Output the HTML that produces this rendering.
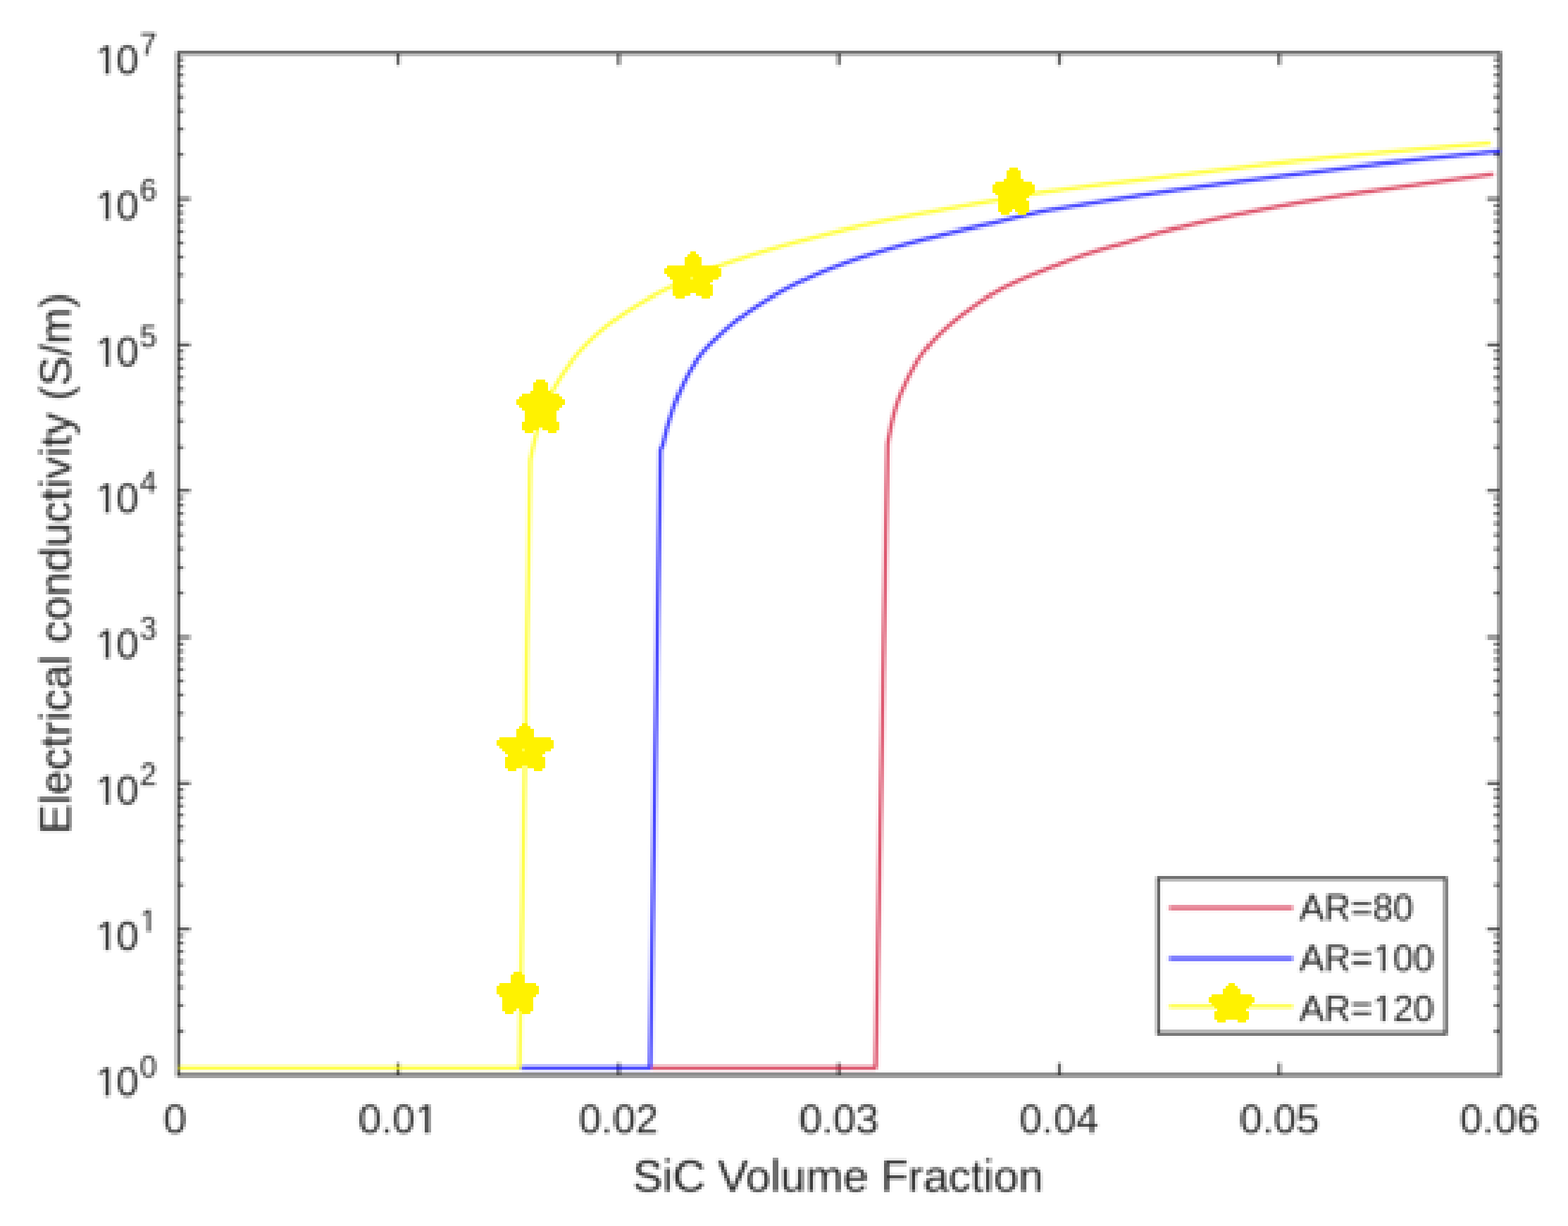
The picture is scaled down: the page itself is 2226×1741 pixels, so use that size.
<!DOCTYPE html>
<html lang="en"><head><meta charset="utf-8"><title>Electrical conductivity vs SiC Volume Fraction</title>
<style>html,body{margin:0;padding:0;background:#fff}body{width:2226px;height:1741px;overflow:hidden}svg{display:block}text{font-family:"Liberation Sans",Arial,Helvetica,sans-serif}</style>
</head><body>
<svg xmlns="http://www.w3.org/2000/svg" width="2226" height="1741" viewBox="0 0 2226 1741">
<defs>
<filter id="px" x="0" y="0" width="2226" height="1741" filterUnits="userSpaceOnUse" color-interpolation-filters="sRGB">
<feOffset in="SourceGraphic" dx="0" dy="0" x="0" y="1736" width="2226" height="4" result="sx0"/>
<feTile in="sx0" x="0" y="0" width="2226" height="1741" result="mapx"/>
<feOffset in="SourceGraphic" dx="0" dy="0" x="2221" y="0" width="4" height="1741" result="sy0"/>
<feTile in="sy0" x="0" y="0" width="2226" height="1741" result="mapy"/>
<feComposite in="mapx" in2="mapy" operator="arithmetic" k1="0" k2="1" k3="1" k4="0" result="map"/>
<feFlood x="0" y="1735" width="2226" height="6" flood-color="#fff" result="fx"/>
<feFlood x="2220" y="0" width="6" height="1741" flood-color="#fff" result="fy"/>
<feMerge result="clean"><feMergeNode in="SourceGraphic"/><feMergeNode in="fx"/><feMergeNode in="fy"/></feMerge>
<feGaussianBlur in="clean" stdDeviation="0.8" result="pre"/>
<feConvolveMatrix in="pre" order="4" kernelMatrix="1 1 1 1 1 1 1 1 1 1 1 1 1 1 1 1" divisor="16" targetX="1" targetY="1" edgeMode="duplicate" preserveAlpha="false" result="aa"/>
<feFlood x="1" y="1" width="1" height="1" flood-color="#000" result="dot"/>
<feOffset in="dot" dx="0" dy="0" x="0" y="0" width="4" height="4" result="cell"/>
<feTile in="cell" result="grid"/>
<feComposite in="aa" in2="grid" operator="in" result="samp"/>
<feMorphology in="samp" operator="dilate" radius="1" result="d3"/>
<feOffset in="d3" dx="1" dy="0" result="d3x"/>
<feMerge result="d43"><feMergeNode in="d3x"/><feMergeNode in="d3"/></feMerge>
<feOffset in="d43" dx="0" dy="1" result="d43y"/>
<feMerge result="d44"><feMergeNode in="d43y"/><feMergeNode in="d43"/></feMerge>
<feDisplacementMap in="d44" in2="map" scale="64" xChannelSelector="R" yChannelSelector="G" result="disp"/>
<feGaussianBlur in="disp" stdDeviation="0.7"/>
</filter>
<filter id="bs" x="0" y="0" width="2226" height="1741" filterUnits="userSpaceOnUse"><feGaussianBlur stdDeviation="0.5"/></filter>
<filter id="bc" x="0" y="0" width="560" height="440" filterUnits="userSpaceOnUse"><feGaussianBlur stdDeviation="0.26"/></filter>
<filter id="bt" x="0" y="0" width="560" height="440" filterUnits="userSpaceOnUse"><feGaussianBlur stdDeviation="0"/></filter>
</defs>
<rect width="2226" height="1741" fill="#fff"/>
<g filter="url(#px)">
<rect width="2226" height="1741" fill="#fff"/>
<rect x="0" y="1735" width="5" height="6" fill="rgb(125,0,0)"/><rect x="5" y="1735" width="23" height="6" fill="rgb(124,0,0)"/><rect x="28" y="1735" width="22" height="6" fill="rgb(123,0,0)"/><rect x="50" y="1735" width="22" height="6" fill="rgb(122,0,0)"/><rect x="72" y="1735" width="22" height="6" fill="rgb(121,0,0)"/><rect x="94" y="1735" width="23" height="6" fill="rgb(120,0,0)"/><rect x="117" y="1735" width="22" height="6" fill="rgb(119,0,0)"/><rect x="139" y="1735" width="22" height="6" fill="rgb(118,0,0)"/><rect x="161" y="1735" width="23" height="6" fill="rgb(117,0,0)"/><rect x="184" y="1735" width="22" height="6" fill="rgb(116,0,0)"/><rect x="206" y="1735" width="22" height="6" fill="rgb(115,0,0)"/><rect x="228" y="1735" width="22" height="6" fill="rgb(114,0,0)"/><rect x="250" y="1735" width="23" height="6" fill="rgb(113,0,0)"/><rect x="273" y="1735" width="22" height="6" fill="rgb(112,0,0)"/><rect x="295" y="1735" width="22" height="6" fill="rgb(111,0,0)"/><rect x="317" y="1735" width="22" height="6" fill="rgb(110,0,0)"/><rect x="339" y="1735" width="23" height="6" fill="rgb(109,0,0)"/><rect x="362" y="1735" width="22" height="6" fill="rgb(108,0,0)"/><rect x="384" y="1735" width="22" height="6" fill="rgb(107,0,0)"/><rect x="406" y="1735" width="22" height="6" fill="rgb(106,0,0)"/><rect x="428" y="1735" width="23" height="6" fill="rgb(105,0,0)"/><rect x="451" y="1735" width="22" height="6" fill="rgb(104,0,0)"/><rect x="473" y="1735" width="22" height="6" fill="rgb(103,0,0)"/><rect x="495" y="1735" width="23" height="6" fill="rgb(102,0,0)"/><rect x="518" y="1735" width="22" height="6" fill="rgb(101,0,0)"/><rect x="540" y="1735" width="22" height="6" fill="rgb(100,0,0)"/><rect x="562" y="1735" width="22" height="6" fill="rgb(99,0,0)"/><rect x="584" y="1735" width="23" height="6" fill="rgb(98,0,0)"/><rect x="607" y="1735" width="22" height="6" fill="rgb(97,0,0)"/><rect x="629" y="1735" width="22" height="6" fill="rgb(96,0,0)"/><rect x="651" y="1735" width="22" height="6" fill="rgb(95,0,0)"/><rect x="673" y="1735" width="23" height="6" fill="rgb(94,0,0)"/><rect x="696" y="1735" width="22" height="6" fill="rgb(93,0,0)"/><rect x="718" y="1735" width="22" height="6" fill="rgb(92,0,0)"/><rect x="740" y="1735" width="22" height="6" fill="rgb(91,0,0)"/><rect x="762" y="1735" width="23" height="6" fill="rgb(90,0,0)"/><rect x="785" y="1735" width="22" height="6" fill="rgb(89,0,0)"/><rect x="807" y="1735" width="22" height="6" fill="rgb(88,0,0)"/><rect x="829" y="1735" width="23" height="6" fill="rgb(87,0,0)"/><rect x="852" y="1735" width="22" height="6" fill="rgb(86,0,0)"/><rect x="874" y="1735" width="22" height="6" fill="rgb(85,0,0)"/><rect x="896" y="1735" width="22" height="6" fill="rgb(84,0,0)"/><rect x="918" y="1735" width="23" height="6" fill="rgb(83,0,0)"/><rect x="941" y="1735" width="22" height="6" fill="rgb(82,0,0)"/><rect x="963" y="1735" width="22" height="6" fill="rgb(81,0,0)"/><rect x="985" y="1735" width="22" height="6" fill="rgb(80,0,0)"/><rect x="1007" y="1735" width="23" height="6" fill="rgb(79,0,0)"/><rect x="1030" y="1735" width="22" height="6" fill="rgb(78,0,0)"/><rect x="1052" y="1735" width="22" height="6" fill="rgb(77,0,0)"/><rect x="1074" y="1735" width="22" height="6" fill="rgb(76,0,0)"/><rect x="1096" y="1735" width="23" height="6" fill="rgb(75,0,0)"/><rect x="1119" y="1735" width="22" height="6" fill="rgb(74,0,0)"/><rect x="1141" y="1735" width="22" height="6" fill="rgb(73,0,0)"/><rect x="1163" y="1735" width="23" height="6" fill="rgb(72,0,0)"/><rect x="1186" y="1735" width="22" height="6" fill="rgb(71,0,0)"/><rect x="1208" y="1735" width="22" height="6" fill="rgb(70,0,0)"/><rect x="1230" y="1735" width="22" height="6" fill="rgb(69,0,0)"/><rect x="1252" y="1735" width="23" height="6" fill="rgb(68,0,0)"/><rect x="1275" y="1735" width="22" height="6" fill="rgb(67,0,0)"/><rect x="1297" y="1735" width="22" height="6" fill="rgb(66,0,0)"/><rect x="1319" y="1735" width="22" height="6" fill="rgb(65,0,0)"/><rect x="1341" y="1735" width="23" height="6" fill="rgb(64,0,0)"/><rect x="1364" y="1735" width="22" height="6" fill="rgb(63,0,0)"/><rect x="1386" y="1735" width="22" height="6" fill="rgb(62,0,0)"/><rect x="1408" y="1735" width="22" height="6" fill="rgb(61,0,0)"/><rect x="1430" y="1735" width="23" height="6" fill="rgb(60,0,0)"/><rect x="1453" y="1735" width="22" height="6" fill="rgb(59,0,0)"/><rect x="1475" y="1735" width="22" height="6" fill="rgb(58,0,0)"/><rect x="1497" y="1735" width="23" height="6" fill="rgb(57,0,0)"/><rect x="1520" y="1735" width="22" height="6" fill="rgb(56,0,0)"/><rect x="1542" y="1735" width="22" height="6" fill="rgb(55,0,0)"/><rect x="1564" y="1735" width="22" height="6" fill="rgb(54,0,0)"/><rect x="1586" y="1735" width="23" height="6" fill="rgb(53,0,0)"/><rect x="1609" y="1735" width="22" height="6" fill="rgb(52,0,0)"/><rect x="1631" y="1735" width="22" height="6" fill="rgb(51,0,0)"/><rect x="1653" y="1735" width="22" height="6" fill="rgb(50,0,0)"/><rect x="1675" y="1735" width="23" height="6" fill="rgb(49,0,0)"/><rect x="1698" y="1735" width="22" height="6" fill="rgb(48,0,0)"/><rect x="1720" y="1735" width="22" height="6" fill="rgb(47,0,0)"/><rect x="1742" y="1735" width="22" height="6" fill="rgb(46,0,0)"/><rect x="1764" y="1735" width="23" height="6" fill="rgb(45,0,0)"/><rect x="1787" y="1735" width="22" height="6" fill="rgb(44,0,0)"/><rect x="1809" y="1735" width="22" height="6" fill="rgb(43,0,0)"/><rect x="1831" y="1735" width="23" height="6" fill="rgb(42,0,0)"/><rect x="1854" y="1735" width="22" height="6" fill="rgb(41,0,0)"/><rect x="1876" y="1735" width="22" height="6" fill="rgb(40,0,0)"/><rect x="1898" y="1735" width="22" height="6" fill="rgb(39,0,0)"/><rect x="1920" y="1735" width="23" height="6" fill="rgb(38,0,0)"/><rect x="1943" y="1735" width="22" height="6" fill="rgb(37,0,0)"/><rect x="1965" y="1735" width="22" height="6" fill="rgb(36,0,0)"/><rect x="1987" y="1735" width="22" height="6" fill="rgb(35,0,0)"/><rect x="2009" y="1735" width="23" height="6" fill="rgb(34,0,0)"/><rect x="2032" y="1735" width="22" height="6" fill="rgb(33,0,0)"/><rect x="2054" y="1735" width="22" height="6" fill="rgb(32,0,0)"/><rect x="2076" y="1735" width="22" height="6" fill="rgb(31,0,0)"/><rect x="2098" y="1735" width="23" height="6" fill="rgb(30,0,0)"/><rect x="2121" y="1735" width="22" height="6" fill="rgb(29,0,0)"/><rect x="2143" y="1735" width="22" height="6" fill="rgb(28,0,0)"/><rect x="2165" y="1735" width="23" height="6" fill="rgb(27,0,0)"/><rect x="2188" y="1735" width="22" height="6" fill="rgb(26,0,0)"/><rect x="2210" y="1735" width="16" height="6" fill="rgb(25,0,0)"/>
<rect x="2220" y="0" width="6" height="18" fill="rgb(0,115,0)"/><rect x="2220" y="18" width="6" height="24" fill="rgb(0,114,0)"/><rect x="2220" y="42" width="6" height="24" fill="rgb(0,113,0)"/><rect x="2220" y="66" width="6" height="24" fill="rgb(0,112,0)"/><rect x="2220" y="90" width="6" height="23" fill="rgb(0,111,0)"/><rect x="2220" y="113" width="6" height="24" fill="rgb(0,110,0)"/><rect x="2220" y="137" width="6" height="24" fill="rgb(0,109,0)"/><rect x="2220" y="161" width="6" height="23" fill="rgb(0,108,0)"/><rect x="2220" y="184" width="6" height="24" fill="rgb(0,107,0)"/><rect x="2220" y="208" width="6" height="24" fill="rgb(0,106,0)"/><rect x="2220" y="232" width="6" height="23" fill="rgb(0,105,0)"/><rect x="2220" y="255" width="6" height="24" fill="rgb(0,104,0)"/><rect x="2220" y="279" width="6" height="24" fill="rgb(0,103,0)"/><rect x="2220" y="303" width="6" height="23" fill="rgb(0,102,0)"/><rect x="2220" y="326" width="6" height="24" fill="rgb(0,101,0)"/><rect x="2220" y="350" width="6" height="24" fill="rgb(0,100,0)"/><rect x="2220" y="374" width="6" height="23" fill="rgb(0,99,0)"/><rect x="2220" y="397" width="6" height="24" fill="rgb(0,98,0)"/><rect x="2220" y="421" width="6" height="24" fill="rgb(0,97,0)"/><rect x="2220" y="445" width="6" height="23" fill="rgb(0,96,0)"/><rect x="2220" y="468" width="6" height="24" fill="rgb(0,95,0)"/><rect x="2220" y="492" width="6" height="24" fill="rgb(0,94,0)"/><rect x="2220" y="516" width="6" height="24" fill="rgb(0,93,0)"/><rect x="2220" y="540" width="6" height="23" fill="rgb(0,92,0)"/><rect x="2220" y="563" width="6" height="24" fill="rgb(0,91,0)"/><rect x="2220" y="587" width="6" height="24" fill="rgb(0,90,0)"/><rect x="2220" y="611" width="6" height="23" fill="rgb(0,89,0)"/><rect x="2220" y="634" width="6" height="24" fill="rgb(0,88,0)"/><rect x="2220" y="658" width="6" height="24" fill="rgb(0,87,0)"/><rect x="2220" y="682" width="6" height="23" fill="rgb(0,86,0)"/><rect x="2220" y="705" width="6" height="24" fill="rgb(0,85,0)"/><rect x="2220" y="729" width="6" height="24" fill="rgb(0,84,0)"/><rect x="2220" y="753" width="6" height="23" fill="rgb(0,83,0)"/><rect x="2220" y="776" width="6" height="24" fill="rgb(0,82,0)"/><rect x="2220" y="800" width="6" height="24" fill="rgb(0,81,0)"/><rect x="2220" y="824" width="6" height="23" fill="rgb(0,80,0)"/><rect x="2220" y="847" width="6" height="24" fill="rgb(0,79,0)"/><rect x="2220" y="871" width="6" height="24" fill="rgb(0,78,0)"/><rect x="2220" y="895" width="6" height="23" fill="rgb(0,77,0)"/><rect x="2220" y="918" width="6" height="24" fill="rgb(0,76,0)"/><rect x="2220" y="942" width="6" height="24" fill="rgb(0,75,0)"/><rect x="2220" y="966" width="6" height="24" fill="rgb(0,74,0)"/><rect x="2220" y="990" width="6" height="23" fill="rgb(0,73,0)"/><rect x="2220" y="1013" width="6" height="24" fill="rgb(0,72,0)"/><rect x="2220" y="1037" width="6" height="24" fill="rgb(0,71,0)"/><rect x="2220" y="1061" width="6" height="23" fill="rgb(0,70,0)"/><rect x="2220" y="1084" width="6" height="24" fill="rgb(0,69,0)"/><rect x="2220" y="1108" width="6" height="24" fill="rgb(0,68,0)"/><rect x="2220" y="1132" width="6" height="23" fill="rgb(0,67,0)"/><rect x="2220" y="1155" width="6" height="24" fill="rgb(0,66,0)"/><rect x="2220" y="1179" width="6" height="24" fill="rgb(0,65,0)"/><rect x="2220" y="1203" width="6" height="23" fill="rgb(0,64,0)"/><rect x="2220" y="1226" width="6" height="24" fill="rgb(0,63,0)"/><rect x="2220" y="1250" width="6" height="24" fill="rgb(0,62,0)"/><rect x="2220" y="1274" width="6" height="23" fill="rgb(0,61,0)"/><rect x="2220" y="1297" width="6" height="24" fill="rgb(0,60,0)"/><rect x="2220" y="1321" width="6" height="24" fill="rgb(0,59,0)"/><rect x="2220" y="1345" width="6" height="24" fill="rgb(0,58,0)"/><rect x="2220" y="1369" width="6" height="23" fill="rgb(0,57,0)"/><rect x="2220" y="1392" width="6" height="24" fill="rgb(0,56,0)"/><rect x="2220" y="1416" width="6" height="24" fill="rgb(0,55,0)"/><rect x="2220" y="1440" width="6" height="23" fill="rgb(0,54,0)"/><rect x="2220" y="1463" width="6" height="24" fill="rgb(0,53,0)"/><rect x="2220" y="1487" width="6" height="24" fill="rgb(0,52,0)"/><rect x="2220" y="1511" width="6" height="23" fill="rgb(0,51,0)"/><rect x="2220" y="1534" width="6" height="24" fill="rgb(0,50,0)"/><rect x="2220" y="1558" width="6" height="24" fill="rgb(0,49,0)"/><rect x="2220" y="1582" width="6" height="23" fill="rgb(0,48,0)"/><rect x="2220" y="1605" width="6" height="24" fill="rgb(0,47,0)"/><rect x="2220" y="1629" width="6" height="24" fill="rgb(0,46,0)"/><rect x="2220" y="1653" width="6" height="23" fill="rgb(0,45,0)"/><rect x="2220" y="1676" width="6" height="24" fill="rgb(0,44,0)"/><rect x="2220" y="1700" width="6" height="24" fill="rgb(0,43,0)"/><rect x="2220" y="1724" width="6" height="17" fill="rgb(0,42,0)"/>
<g transform="scale(4)">
<g fill="#262626">
<rect x="139.117" y="372.650" width="0.9" height="4.300"/>
<rect x="139.117" y="17.800" width="0.9" height="4.300"/>
<rect x="216.423" y="372.650" width="0.9" height="4.300"/>
<rect x="216.423" y="17.800" width="0.9" height="4.300"/>
<rect x="293.730" y="372.650" width="0.9" height="4.300"/>
<rect x="293.730" y="17.800" width="0.9" height="4.300"/>
<rect x="371.037" y="372.650" width="0.9" height="4.300"/>
<rect x="371.037" y="17.800" width="0.9" height="4.300"/>
<rect x="448.343" y="372.650" width="0.9" height="4.300"/>
<rect x="448.343" y="17.800" width="0.9" height="4.300"/>
<rect x="62.260" y="361.075" width="1.900" height="0.8"/>
<rect x="524.200" y="361.075" width="1.900" height="0.8"/>
<rect x="62.260" y="352.040" width="1.900" height="0.8"/>
<rect x="524.200" y="352.040" width="1.900" height="0.8"/>
<rect x="62.260" y="345.630" width="1.900" height="0.8"/>
<rect x="524.200" y="345.630" width="1.900" height="0.8"/>
<rect x="62.260" y="340.658" width="1.900" height="0.8"/>
<rect x="524.200" y="340.658" width="1.900" height="0.8"/>
<rect x="62.260" y="336.595" width="1.900" height="0.8"/>
<rect x="524.200" y="336.595" width="1.900" height="0.8"/>
<rect x="62.260" y="333.160" width="1.900" height="0.8"/>
<rect x="524.200" y="333.160" width="1.900" height="0.8"/>
<rect x="62.260" y="330.185" width="1.900" height="0.8"/>
<rect x="524.200" y="330.185" width="1.900" height="0.8"/>
<rect x="62.260" y="327.561" width="1.900" height="0.8"/>
<rect x="524.200" y="327.561" width="1.900" height="0.8"/>
<rect x="62.260" y="325.163" width="4.300" height="0.9"/>
<rect x="521.800" y="325.163" width="4.300" height="0.9"/>
<rect x="62.260" y="309.768" width="1.900" height="0.8"/>
<rect x="524.200" y="309.768" width="1.900" height="0.8"/>
<rect x="62.260" y="300.733" width="1.900" height="0.8"/>
<rect x="524.200" y="300.733" width="1.900" height="0.8"/>
<rect x="62.260" y="294.323" width="1.900" height="0.8"/>
<rect x="524.200" y="294.323" width="1.900" height="0.8"/>
<rect x="62.260" y="289.351" width="1.900" height="0.8"/>
<rect x="524.200" y="289.351" width="1.900" height="0.8"/>
<rect x="62.260" y="285.288" width="1.900" height="0.8"/>
<rect x="524.200" y="285.288" width="1.900" height="0.8"/>
<rect x="62.260" y="281.853" width="1.900" height="0.8"/>
<rect x="524.200" y="281.853" width="1.900" height="0.8"/>
<rect x="62.260" y="278.878" width="1.900" height="0.8"/>
<rect x="524.200" y="278.878" width="1.900" height="0.8"/>
<rect x="62.260" y="276.253" width="1.900" height="0.8"/>
<rect x="524.200" y="276.253" width="1.900" height="0.8"/>
<rect x="62.260" y="273.856" width="4.300" height="0.9"/>
<rect x="521.800" y="273.856" width="4.300" height="0.9"/>
<rect x="62.260" y="258.461" width="1.900" height="0.8"/>
<rect x="524.200" y="258.461" width="1.900" height="0.8"/>
<rect x="62.260" y="249.426" width="1.900" height="0.8"/>
<rect x="524.200" y="249.426" width="1.900" height="0.8"/>
<rect x="62.260" y="243.016" width="1.900" height="0.8"/>
<rect x="524.200" y="243.016" width="1.900" height="0.8"/>
<rect x="62.260" y="238.044" width="1.900" height="0.8"/>
<rect x="524.200" y="238.044" width="1.900" height="0.8"/>
<rect x="62.260" y="233.981" width="1.900" height="0.8"/>
<rect x="524.200" y="233.981" width="1.900" height="0.8"/>
<rect x="62.260" y="230.546" width="1.900" height="0.8"/>
<rect x="524.200" y="230.546" width="1.900" height="0.8"/>
<rect x="62.260" y="227.571" width="1.900" height="0.8"/>
<rect x="524.200" y="227.571" width="1.900" height="0.8"/>
<rect x="62.260" y="224.946" width="1.900" height="0.8"/>
<rect x="524.200" y="224.946" width="1.900" height="0.8"/>
<rect x="62.260" y="222.549" width="4.300" height="0.9"/>
<rect x="521.800" y="222.549" width="4.300" height="0.9"/>
<rect x="62.260" y="207.154" width="1.900" height="0.8"/>
<rect x="524.200" y="207.154" width="1.900" height="0.8"/>
<rect x="62.260" y="198.119" width="1.900" height="0.8"/>
<rect x="524.200" y="198.119" width="1.900" height="0.8"/>
<rect x="62.260" y="191.709" width="1.900" height="0.8"/>
<rect x="524.200" y="191.709" width="1.900" height="0.8"/>
<rect x="62.260" y="186.736" width="1.900" height="0.8"/>
<rect x="524.200" y="186.736" width="1.900" height="0.8"/>
<rect x="62.260" y="182.674" width="1.900" height="0.8"/>
<rect x="524.200" y="182.674" width="1.900" height="0.8"/>
<rect x="62.260" y="179.239" width="1.900" height="0.8"/>
<rect x="524.200" y="179.239" width="1.900" height="0.8"/>
<rect x="62.260" y="176.264" width="1.900" height="0.8"/>
<rect x="524.200" y="176.264" width="1.900" height="0.8"/>
<rect x="62.260" y="173.639" width="1.900" height="0.8"/>
<rect x="524.200" y="173.639" width="1.900" height="0.8"/>
<rect x="62.260" y="171.241" width="4.300" height="0.9"/>
<rect x="521.800" y="171.241" width="4.300" height="0.9"/>
<rect x="62.260" y="155.846" width="1.900" height="0.8"/>
<rect x="524.200" y="155.846" width="1.900" height="0.8"/>
<rect x="62.260" y="146.812" width="1.900" height="0.8"/>
<rect x="524.200" y="146.812" width="1.900" height="0.8"/>
<rect x="62.260" y="140.401" width="1.900" height="0.8"/>
<rect x="524.200" y="140.401" width="1.900" height="0.8"/>
<rect x="62.260" y="135.429" width="1.900" height="0.8"/>
<rect x="524.200" y="135.429" width="1.900" height="0.8"/>
<rect x="62.260" y="131.367" width="1.900" height="0.8"/>
<rect x="524.200" y="131.367" width="1.900" height="0.8"/>
<rect x="62.260" y="127.932" width="1.900" height="0.8"/>
<rect x="524.200" y="127.932" width="1.900" height="0.8"/>
<rect x="62.260" y="124.956" width="1.900" height="0.8"/>
<rect x="524.200" y="124.956" width="1.900" height="0.8"/>
<rect x="62.260" y="122.332" width="1.900" height="0.8"/>
<rect x="524.200" y="122.332" width="1.900" height="0.8"/>
<rect x="62.260" y="119.934" width="4.300" height="0.9"/>
<rect x="521.800" y="119.934" width="4.300" height="0.9"/>
<rect x="62.260" y="104.539" width="1.900" height="0.8"/>
<rect x="524.200" y="104.539" width="1.900" height="0.8"/>
<rect x="62.260" y="95.505" width="1.900" height="0.8"/>
<rect x="524.200" y="95.505" width="1.900" height="0.8"/>
<rect x="62.260" y="89.094" width="1.900" height="0.8"/>
<rect x="524.200" y="89.094" width="1.900" height="0.8"/>
<rect x="62.260" y="84.122" width="1.900" height="0.8"/>
<rect x="524.200" y="84.122" width="1.900" height="0.8"/>
<rect x="62.260" y="80.060" width="1.900" height="0.8"/>
<rect x="524.200" y="80.060" width="1.900" height="0.8"/>
<rect x="62.260" y="76.625" width="1.900" height="0.8"/>
<rect x="524.200" y="76.625" width="1.900" height="0.8"/>
<rect x="62.260" y="73.649" width="1.900" height="0.8"/>
<rect x="524.200" y="73.649" width="1.900" height="0.8"/>
<rect x="62.260" y="71.025" width="1.900" height="0.8"/>
<rect x="524.200" y="71.025" width="1.900" height="0.8"/>
<rect x="62.260" y="68.627" width="4.300" height="0.9"/>
<rect x="521.800" y="68.627" width="4.300" height="0.9"/>
<rect x="62.260" y="53.232" width="1.900" height="0.8"/>
<rect x="524.200" y="53.232" width="1.900" height="0.8"/>
<rect x="62.260" y="44.197" width="1.900" height="0.8"/>
<rect x="524.200" y="44.197" width="1.900" height="0.8"/>
<rect x="62.260" y="37.787" width="1.900" height="0.8"/>
<rect x="524.200" y="37.787" width="1.900" height="0.8"/>
<rect x="62.260" y="32.815" width="1.900" height="0.8"/>
<rect x="524.200" y="32.815" width="1.900" height="0.8"/>
<rect x="62.260" y="28.752" width="1.900" height="0.8"/>
<rect x="524.200" y="28.752" width="1.900" height="0.8"/>
<rect x="62.260" y="25.318" width="1.900" height="0.8"/>
<rect x="524.200" y="25.318" width="1.900" height="0.8"/>
<rect x="62.260" y="22.342" width="1.900" height="0.8"/>
<rect x="524.200" y="22.342" width="1.900" height="0.8"/>
<rect x="62.260" y="19.718" width="1.900" height="0.8"/>
<rect x="524.200" y="19.718" width="1.900" height="0.8"/>
<rect x="61.775" y="17.315" width="464.810" height="0.97"/>
<rect x="61.775" y="376.465" width="464.810" height="0.97"/>
<rect x="61.775" y="17.315" width="0.97" height="360.120"/>
<rect x="525.615" y="17.315" width="0.97" height="360.120"/>
</g>
<g fill="none" stroke-linejoin="round" stroke-width="1.05" filter="url(#bc)">
<path d="M228.47 374.32 L307.05 374.32 L311.28 155.06 L312.02 151.27 L312.76 147.72 L313.50 144.73 L314.24 142.18 L314.98 139.97 L315.73 138.01 L316.47 136.27 L317.21 134.70 L317.95 133.04 L318.69 131.51 L319.43 130.08 L320.18 128.74 L320.92 127.48 L321.66 126.29 L322.40 125.16 L323.14 124.10 L323.88 123.10 L324.62 122.14 L325.37 121.21 L326.11 120.33 L326.85 119.48 L327.59 118.66 L328.33 117.87 L329.07 117.11 L329.82 116.38 L330.56 115.66 L331.30 114.97 L332.04 114.30 L332.78 113.64 L333.52 112.99 L334.26 112.36 L335.01 111.75 L335.75 111.15 L336.49 110.57 L337.23 110.00 L337.97 109.44 L338.71 108.90 L339.46 108.36 L340.20 107.81 L340.94 107.27 L341.68 106.74 L342.42 106.22 L343.16 105.70 L343.90 105.20 L344.65 104.71 L345.39 104.22 L346.13 103.75 L346.87 103.29 L347.61 102.83 L348.35 102.39 L349.10 101.95 L349.84 101.52 L350.58 101.09 L351.32 100.67 L352.06 100.29 L352.80 99.92 L353.54 99.57 L354.29 99.21 L355.03 98.87 L355.77 98.53 L356.51 98.19 L357.25 97.86 L357.99 97.53 L358.74 97.21 L359.48 96.89 L360.22 96.57 L360.96 96.26 L361.70 95.96 L362.44 95.65 L363.18 95.36 L363.93 95.06 L364.67 94.77 L365.41 94.48 L366.15 94.19 L366.89 93.87 L367.63 93.56 L368.38 93.26 L369.12 92.95 L369.86 92.65 L370.60 92.36 L371.34 92.06 L372.08 91.77 L372.82 91.48 L373.57 91.20 L374.31 90.91 L375.05 90.63 L375.79 90.35 L376.53 90.08 L377.27 89.80 L378.02 89.53 L378.76 89.26 L379.50 89.00 L380.24 88.73 L380.98 88.49 L381.72 88.25 L382.46 88.02 L383.21 87.79 L383.95 87.56 L384.69 87.34 L385.43 87.11 L386.17 86.89 L386.91 86.67 L387.66 86.45 L388.40 86.23 L389.14 86.02 L389.88 85.80 L390.62 85.59 L391.36 85.38 L392.11 85.17 L392.85 84.97 L393.59 84.76 L394.33 84.56 L395.07 84.34 L395.81 84.11 L396.55 83.88 L397.30 83.65 L398.04 83.42 L398.78 83.19 L399.52 82.96 L400.26 82.74 L401.00 82.52 L401.75 82.29 L402.49 82.07 L403.23 81.85 L403.97 81.64 L404.71 81.42 L405.45 81.21 L406.19 81.02 L406.94 80.83 L407.68 80.64 L408.42 80.46 L409.16 80.27 L409.90 80.09 L410.64 79.90 L411.39 79.72 L412.13 79.54 L412.87 79.36 L413.61 79.18 L414.35 79.00 L415.09 78.82 L415.83 78.65 L416.58 78.47 L417.32 78.30 L418.06 78.13 L418.80 77.95 L419.54 77.78 L420.28 77.61 L421.03 77.44 L421.77 77.27 L422.51 77.11 L423.25 76.94 L423.99 76.77 L424.73 76.61 L425.47 76.45 L426.22 76.28 L426.96 76.12 L427.70 75.96 L428.44 75.80 L429.18 75.64 L429.92 75.48 L430.67 75.32 L431.41 75.17 L432.15 75.01 L432.89 74.85 L433.63 74.70 L434.37 74.54 L435.11 74.39 L435.86 74.24 L436.60 74.09 L437.34 73.93 L438.08 73.78 L438.82 73.63 L439.56 73.48 L440.31 73.34 L441.05 73.19 L441.79 73.04 L442.53 72.90 L443.27 72.76 L444.01 72.62 L444.75 72.47 L445.50 72.33 L446.24 72.19 L446.98 72.05 L447.72 71.92 L448.46 71.78 L449.20 71.64 L449.95 71.50 L450.69 71.37 L451.43 71.23 L452.17 71.10 L452.91 70.96 L453.65 70.83 L454.39 70.69 L455.14 70.56 L455.88 70.43 L456.62 70.30 L457.36 70.17 L458.10 70.04 L458.84 69.91 L459.59 69.78 L460.33 69.65 L461.07 69.52 L461.81 69.39 L462.55 69.26 L463.29 69.14 L464.04 69.01 L464.78 68.88 L465.52 68.76 L466.26 68.63 L467.00 68.51 L467.74 68.38 L468.48 68.26 L469.23 68.14 L469.97 68.02 L470.71 67.90 L471.45 67.79 L472.19 67.68 L472.93 67.56 L473.68 67.45 L474.42 67.34 L475.16 67.22 L475.90 67.11 L476.64 67.00 L477.38 66.89 L478.12 66.78 L478.87 66.67 L479.61 66.56 L480.35 66.45 L481.09 66.34 L481.83 66.23 L482.57 66.12 L483.32 66.01 L484.06 65.90 L484.80 65.80 L485.54 65.69 L486.28 65.58 L487.02 65.48 L487.76 65.37 L488.51 65.27 L489.25 65.16 L489.99 65.06 L490.73 64.95 L491.47 64.85 L492.21 64.75 L492.96 64.64 L493.70 64.54 L494.44 64.44 L495.18 64.34 L495.92 64.24 L496.66 64.13 L497.40 64.03 L498.15 63.92 L498.89 63.81 L499.63 63.70 L500.37 63.60 L501.11 63.49 L501.85 63.38 L502.60 63.28 L503.34 63.17 L504.08 63.07 L504.82 62.96 L505.56 62.86 L506.30 62.75 L507.04 62.65 L507.79 62.55 L508.53 62.44 L509.27 62.34 L510.01 62.24 L510.75 62.13 L511.49 62.03 L512.24 61.93 L512.98 61.83 L513.72 61.73 L514.46 61.63 L515.20 61.53 L515.94 61.43 L516.68 61.33 L517.43 61.23 L518.17 61.13 L518.91 61.03 L519.65 60.93 L520.39 60.83 L521.13 60.73 L521.88 60.63 L522.62 60.54 L523.36 60.44 L524.03 60.35" stroke="#d01838"/>
<path d="M182.49 374.32 L227.98 374.32 L231.68 157.04 L232.43 155.80 L233.17 152.69 L233.91 149.85 L234.65 147.36 L235.39 144.94 L236.13 142.64 L236.87 140.55 L237.62 138.63 L238.36 136.86 L239.10 135.16 L239.84 133.56 L240.58 132.06 L241.32 130.63 L242.07 129.27 L242.81 128.08 L243.55 126.94 L244.29 125.86 L245.03 124.81 L245.77 123.82 L246.51 122.94 L247.26 122.10 L248.00 121.29 L248.74 120.51 L249.48 119.76 L250.22 119.04 L250.96 118.34 L251.71 117.66 L252.45 116.96 L253.19 116.26 L253.93 115.57 L254.67 114.90 L255.41 114.25 L256.15 113.62 L256.90 113.00 L257.64 112.40 L258.38 111.81 L259.12 111.23 L259.86 110.66 L260.60 110.11 L261.35 109.57 L262.09 109.04 L262.83 108.52 L263.57 108.01 L264.31 107.51 L265.05 107.01 L265.79 106.53 L266.54 106.06 L267.28 105.59 L268.02 105.13 L268.76 104.68 L269.50 104.24 L270.24 103.80 L270.99 103.37 L271.73 102.94 L272.47 102.52 L273.21 102.11 L273.95 101.70 L274.69 101.29 L275.44 100.90 L276.18 100.50 L276.92 100.12 L277.66 99.74 L278.40 99.36 L279.14 98.99 L279.88 98.62 L280.63 98.26 L281.37 97.90 L282.11 97.55 L282.85 97.20 L283.59 96.86 L284.33 96.52 L285.08 96.18 L285.82 95.85 L286.56 95.52 L287.30 95.19 L288.04 94.87 L288.78 94.57 L289.52 94.27 L290.27 93.97 L291.01 93.68 L291.75 93.39 L292.49 93.10 L293.23 92.82 L293.97 92.54 L294.72 92.26 L295.46 91.98 L296.20 91.71 L296.94 91.44 L297.68 91.18 L298.42 90.91 L299.16 90.65 L299.91 90.39 L300.65 90.13 L301.39 89.88 L302.13 89.63 L302.87 89.38 L303.61 89.13 L304.36 88.89 L305.10 88.64 L305.84 88.40 L306.58 88.17 L307.32 87.94 L308.06 87.71 L308.80 87.49 L309.55 87.27 L310.29 87.05 L311.03 86.83 L311.77 86.62 L312.51 86.40 L313.25 86.19 L314.00 85.98 L314.74 85.77 L315.48 85.57 L316.22 85.36 L316.96 85.16 L317.70 84.96 L318.44 84.76 L319.19 84.56 L319.93 84.36 L320.67 84.16 L321.41 83.97 L322.15 83.78 L322.89 83.59 L323.64 83.40 L324.38 83.21 L325.12 83.02 L325.86 82.84 L326.60 82.65 L327.34 82.46 L328.08 82.28 L328.83 82.09 L329.57 81.91 L330.31 81.72 L331.05 81.54 L331.79 81.36 L332.53 81.18 L333.28 81.01 L334.02 80.83 L334.76 80.66 L335.50 80.48 L336.24 80.31 L336.98 80.14 L337.72 79.97 L338.47 79.80 L339.21 79.63 L339.95 79.46 L340.69 79.29 L341.43 79.13 L342.17 78.96 L342.92 78.80 L343.66 78.64 L344.40 78.48 L345.14 78.32 L345.88 78.16 L346.62 78.00 L347.37 77.84 L348.11 77.67 L348.85 77.49 L349.59 77.30 L350.33 77.12 L351.07 76.94 L351.81 76.75 L352.56 76.57 L353.30 76.39 L354.04 76.21 L354.78 76.03 L355.52 75.86 L356.26 75.68 L357.01 75.50 L357.75 75.33 L358.49 75.15 L359.23 74.98 L359.97 74.81 L360.71 74.63 L361.45 74.46 L362.20 74.29 L362.94 74.12 L363.68 73.95 L364.42 73.78 L365.16 73.62 L365.90 73.46 L366.65 73.33 L367.39 73.20 L368.13 73.07 L368.87 72.94 L369.61 72.81 L370.35 72.69 L371.09 72.56 L371.84 72.43 L372.58 72.31 L373.32 72.18 L374.06 72.06 L374.80 71.94 L375.54 71.81 L376.29 71.69 L377.03 71.57 L377.77 71.45 L378.51 71.33 L379.25 71.21 L379.99 71.09 L380.73 70.97 L381.48 70.85 L382.22 70.74 L382.96 70.62 L383.70 70.50 L384.44 70.38 L385.18 70.26 L385.93 70.13 L386.67 70.01 L387.41 69.88 L388.15 69.76 L388.89 69.64 L389.63 69.52 L390.37 69.40 L391.12 69.28 L391.86 69.15 L392.60 69.03 L393.34 68.92 L394.08 68.80 L394.82 68.68 L395.57 68.56 L396.31 68.44 L397.05 68.33 L397.79 68.21 L398.53 68.09 L399.27 67.98 L400.01 67.86 L400.76 67.75 L401.50 67.63 L402.24 67.52 L402.98 67.41 L403.72 67.29 L404.46 67.18 L405.21 67.07 L405.95 66.96 L406.69 66.85 L407.43 66.74 L408.17 66.63 L408.91 66.52 L409.65 66.41 L410.40 66.30 L411.14 66.19 L411.88 66.08 L412.62 65.98 L413.36 65.87 L414.10 65.76 L414.85 65.65 L415.59 65.55 L416.33 65.44 L417.07 65.34 L417.81 65.23 L418.55 65.13 L419.30 65.02 L420.04 64.92 L420.78 64.82 L421.52 64.71 L422.26 64.61 L423.00 64.51 L423.74 64.41 L424.49 64.31 L425.23 64.20 L425.97 64.10 L426.71 64.00 L427.45 63.90 L428.19 63.80 L428.94 63.70 L429.68 63.60 L430.42 63.51 L431.16 63.41 L431.90 63.31 L432.64 63.21 L433.38 63.11 L434.13 63.02 L434.87 62.92 L435.61 62.82 L436.35 62.73 L437.09 62.63 L437.83 62.54 L438.58 62.44 L439.32 62.35 L440.06 62.25 L440.80 62.16 L441.54 62.06 L442.28 61.97 L443.02 61.87 L443.77 61.77 L444.51 61.68 L445.25 61.58 L445.99 61.49 L446.73 61.39 L447.47 61.30 L448.22 61.20 L448.96 61.11 L449.70 61.01 L450.44 60.92 L451.18 60.83 L451.92 60.73 L452.66 60.64 L453.41 60.55 L454.15 60.45 L454.89 60.36 L455.63 60.27 L456.37 60.18 L457.11 60.09 L457.86 60.00 L458.60 59.91 L459.34 59.82 L460.08 59.73 L460.82 59.64 L461.56 59.55 L462.30 59.46 L463.05 59.37 L463.79 59.28 L464.53 59.19 L465.27 59.10 L466.01 59.01 L466.75 58.93 L467.50 58.84 L468.24 58.75 L468.98 58.66 L469.72 58.57 L470.46 58.48 L471.20 58.38 L471.94 58.29 L472.69 58.19 L473.43 58.10 L474.17 58.00 L474.91 57.91 L475.65 57.81 L476.39 57.72 L477.14 57.63 L477.88 57.53 L478.62 57.44 L479.36 57.35 L480.10 57.25 L480.84 57.16 L481.58 57.07 L482.33 56.98 L483.07 56.89 L483.81 56.79 L484.55 56.71 L485.29 56.63 L486.03 56.55 L486.78 56.47 L487.52 56.39 L488.26 56.31 L489.00 56.24 L489.74 56.16 L490.48 56.08 L491.23 56.00 L491.97 55.93 L492.71 55.85 L493.45 55.77 L494.19 55.70 L494.93 55.62 L495.67 55.55 L496.42 55.47 L497.16 55.39 L497.90 55.31 L498.64 55.24 L499.38 55.16 L500.12 55.08 L500.87 55.00 L501.61 54.92 L502.35 54.85 L503.09 54.77 L503.83 54.69 L504.57 54.62 L505.31 54.54 L506.06 54.46 L506.80 54.39 L507.54 54.31 L508.28 54.23 L509.02 54.16 L509.76 54.08 L510.51 54.01 L511.25 53.93 L511.99 53.86 L512.73 53.78 L513.47 53.71 L514.21 53.63 L514.95 53.56 L515.70 53.48 L516.44 53.41 L517.18 53.34 L517.92 53.26 L518.66 53.19 L519.40 53.12 L520.15 53.04 L520.89 52.97 L521.63 52.90 L522.37 52.82 L523.11 52.75 L523.85 52.68 L524.59 52.61 L525.34 52.54 L526.08 52.47 L526.28 52.45" stroke="#0000ff"/>
<path d="M62.36 374.32 L182.10 374.32 L185.96 160.75 L186.70 157.32 L187.44 154.09 L188.18 151.19 L188.92 148.59 L189.66 146.25 L190.40 144.12 L191.15 142.17 L191.89 140.38 L192.63 138.71 L193.37 137.18 L194.11 135.75 L194.85 134.41 L195.60 133.14 L196.34 131.94 L197.08 130.80 L197.82 129.72 L198.56 128.67 L199.30 127.63 L200.04 126.63 L200.79 125.67 L201.53 124.75 L202.27 123.86 L203.01 123.00 L203.75 122.17 L204.49 121.37 L205.24 120.59 L205.98 119.83 L206.72 119.10 L207.46 118.39 L208.20 117.70 L208.94 117.02 L209.68 116.37 L210.43 115.72 L211.17 115.09 L211.91 114.48 L212.65 113.87 L213.39 113.29 L214.13 112.71 L214.88 112.15 L215.62 111.60 L216.36 111.06 L217.10 110.53 L217.84 110.01 L218.58 109.50 L219.32 109.01 L220.07 108.52 L220.81 108.04 L221.55 107.57 L222.29 107.10 L223.03 106.65 L223.77 106.20 L224.52 105.76 L225.26 105.33 L226.00 104.90 L226.74 104.48 L227.48 104.07 L228.22 103.66 L228.96 103.26 L229.71 102.87 L230.45 102.48 L231.19 102.10 L231.93 101.72 L232.67 101.35 L233.41 100.98 L234.16 100.62 L234.90 100.26 L235.64 99.91 L236.38 99.55 L237.12 99.19 L237.86 98.83 L238.60 98.48 L239.35 98.13 L240.09 97.79 L240.83 97.45 L241.57 97.11 L242.31 96.78 L243.05 96.45 L243.80 96.13 L244.54 95.81 L245.28 95.49 L246.02 95.17 L246.76 94.86 L247.50 94.55 L248.25 94.25 L248.99 93.94 L249.73 93.65 L250.47 93.35 L251.21 93.06 L251.95 92.76 L252.69 92.49 L253.44 92.22 L254.18 91.96 L254.92 91.70 L255.66 91.43 L256.40 91.18 L257.14 90.92 L257.89 90.67 L258.63 90.42 L259.37 90.17 L260.11 89.92 L260.85 89.68 L261.59 89.43 L262.33 89.19 L263.08 88.96 L263.82 88.72 L264.56 88.49 L265.30 88.25 L266.04 88.02 L266.78 87.80 L267.53 87.57 L268.27 87.35 L269.01 87.12 L269.75 86.90 L270.49 86.68 L271.23 86.47 L271.97 86.25 L272.72 86.04 L273.46 85.82 L274.20 85.61 L274.94 85.40 L275.68 85.20 L276.42 84.99 L277.17 84.79 L277.91 84.58 L278.65 84.38 L279.39 84.18 L280.13 83.98 L280.87 83.79 L281.61 83.59 L282.36 83.40 L283.10 83.20 L283.84 83.01 L284.58 82.82 L285.32 82.63 L286.06 82.44 L286.81 82.26 L287.55 82.07 L288.29 81.89 L289.03 81.70 L289.77 81.52 L290.51 81.33 L291.25 81.14 L292.00 80.95 L292.74 80.77 L293.48 80.59 L294.22 80.40 L294.96 80.22 L295.70 80.04 L296.45 79.86 L297.19 79.69 L297.93 79.51 L298.67 79.33 L299.41 79.16 L300.15 78.98 L300.89 78.81 L301.64 78.64 L302.38 78.47 L303.12 78.30 L303.86 78.13 L304.60 77.96 L305.34 77.79 L306.09 77.63 L306.83 77.47 L307.57 77.32 L308.31 77.16 L309.05 77.01 L309.79 76.86 L310.53 76.71 L311.28 76.56 L312.02 76.41 L312.76 76.26 L313.50 76.12 L314.24 75.97 L314.98 75.83 L315.73 75.68 L316.47 75.54 L317.21 75.40 L317.95 75.25 L318.69 75.11 L319.43 74.97 L320.18 74.83 L320.92 74.69 L321.66 74.55 L322.40 74.42 L323.14 74.28 L323.88 74.14 L324.62 74.01 L325.37 73.87 L326.11 73.74 L326.85 73.60 L327.59 73.46 L328.33 73.32 L329.07 73.18 L329.82 73.04 L330.56 72.90 L331.30 72.77 L332.04 72.63 L332.78 72.49 L333.52 72.36 L334.26 72.23 L335.01 72.09 L335.75 71.96 L336.49 71.83 L337.23 71.69 L337.97 71.56 L338.71 71.43 L339.46 71.30 L340.20 71.17 L340.94 71.04 L341.68 70.91 L342.42 70.79 L343.16 70.66 L343.90 70.53 L344.65 70.40 L345.39 70.28 L346.13 70.15 L346.87 70.03 L347.61 69.90 L348.35 69.77 L349.10 69.64 L349.84 69.51 L350.58 69.38 L351.32 69.24 L352.06 69.11 L352.80 68.98 L353.54 68.85 L354.29 68.72 L355.03 68.59 L355.77 68.46 L356.51 68.33 L357.25 68.21 L357.99 68.08 L358.74 67.95 L359.48 67.82 L360.22 67.70 L360.96 67.57 L361.70 67.45 L362.44 67.32 L363.18 67.20 L363.93 67.07 L364.67 66.95 L365.41 66.83 L366.15 66.72 L366.89 66.61 L367.63 66.51 L368.38 66.40 L369.12 66.30 L369.86 66.20 L370.60 66.10 L371.34 66.00 L372.08 65.89 L372.82 65.79 L373.57 65.69 L374.31 65.59 L375.05 65.49 L375.79 65.39 L376.53 65.30 L377.27 65.20 L378.02 65.10 L378.76 65.00 L379.50 64.90 L380.24 64.81 L380.98 64.71 L381.72 64.61 L382.46 64.52 L383.21 64.42 L383.95 64.33 L384.69 64.23 L385.43 64.14 L386.17 64.05 L386.91 63.96 L387.66 63.86 L388.40 63.77 L389.14 63.68 L389.88 63.59 L390.62 63.50 L391.36 63.41 L392.11 63.32 L392.85 63.23 L393.59 63.14 L394.33 63.05 L395.07 62.97 L395.81 62.88 L396.55 62.79 L397.30 62.70 L398.04 62.61 L398.78 62.53 L399.52 62.44 L400.26 62.36 L401.00 62.27 L401.75 62.18 L402.49 62.10 L403.23 62.01 L403.97 61.93 L404.71 61.84 L405.45 61.75 L406.19 61.66 L406.94 61.56 L407.68 61.46 L408.42 61.36 L409.16 61.26 L409.90 61.17 L410.64 61.07 L411.39 60.97 L412.13 60.88 L412.87 60.78 L413.61 60.69 L414.35 60.59 L415.09 60.50 L415.83 60.40 L416.58 60.31 L417.32 60.21 L418.06 60.12 L418.80 60.02 L419.54 59.93 L420.28 59.84 L421.03 59.74 L421.77 59.65 L422.51 59.56 L423.25 59.46 L423.99 59.37 L424.73 59.28 L425.47 59.19 L426.22 59.10 L426.96 59.01 L427.70 58.92 L428.44 58.82 L429.18 58.73 L429.92 58.64 L430.67 58.55 L431.41 58.46 L432.15 58.37 L432.89 58.28 L433.63 58.20 L434.37 58.11 L435.11 58.02 L435.86 57.93 L436.60 57.84 L437.34 57.75 L438.08 57.67 L438.82 57.58 L439.56 57.49 L440.31 57.40 L441.05 57.32 L441.79 57.23 L442.53 57.15 L443.27 57.07 L444.01 56.99 L444.75 56.91 L445.50 56.83 L446.24 56.75 L446.98 56.67 L447.72 56.59 L448.46 56.51 L449.20 56.43 L449.95 56.36 L450.69 56.28 L451.43 56.20 L452.17 56.12 L452.91 56.04 L453.65 55.97 L454.39 55.89 L455.14 55.81 L455.88 55.73 L456.62 55.66 L457.36 55.58 L458.10 55.50 L458.84 55.43 L459.59 55.35 L460.33 55.27 L461.07 55.20 L461.81 55.12 L462.55 55.05 L463.29 54.97 L464.04 54.90 L464.78 54.82 L465.52 54.75 L466.26 54.67 L467.00 54.60 L467.74 54.52 L468.48 54.45 L469.23 54.38 L469.97 54.30 L470.71 54.23 L471.45 54.16 L472.19 54.09 L472.93 54.02 L473.68 53.95 L474.42 53.88 L475.16 53.81 L475.90 53.73 L476.64 53.66 L477.38 53.59 L478.12 53.52 L478.87 53.45 L479.61 53.39 L480.35 53.32 L481.09 53.25 L481.83 53.18 L482.57 53.11 L483.32 53.04 L484.06 52.97 L484.80 52.90 L485.54 52.83 L486.28 52.77 L487.02 52.70 L487.76 52.63 L488.51 52.56 L489.25 52.49 L489.99 52.43 L490.73 52.36 L491.47 52.29 L492.21 52.23 L492.96 52.16 L493.70 52.09 L494.44 52.03 L495.18 51.96 L495.92 51.89 L496.66 51.83 L497.40 51.76 L498.15 51.70 L498.89 51.63 L499.63 51.57 L500.37 51.50 L501.11 51.43 L501.85 51.37 L502.60 51.30 L503.34 51.24 L504.08 51.18 L504.82 51.11 L505.56 51.05 L506.30 50.98 L507.04 50.92 L507.79 50.85 L508.53 50.79 L509.27 50.73 L510.01 50.66 L510.75 50.60 L511.49 50.54 L512.24 50.47 L512.98 50.41 L513.72 50.35 L514.46 50.29 L515.20 50.22 L515.94 50.16 L516.68 50.10 L517.43 50.04 L518.17 49.97 L518.91 49.91 L519.65 49.85 L520.39 49.79 L521.13 49.73 L521.88 49.67 L522.62 49.60 L523.03 49.57" stroke="#ffff00"/>
</g>
<rect x="406.289" y="307.799" width="100.830" height="54.372" fill="#fff"/>
<g fill="#262626">
<rect x="405.804" y="307.314" width="101.800" height="0.97"/>
<rect x="405.804" y="361.686" width="101.800" height="0.97"/>
<rect x="405.804" y="307.314" width="0.97" height="55.342"/>
<rect x="506.634" y="307.314" width="0.97" height="55.342"/>
</g>
<g filter="url(#bc)">
<rect x="410.149" y="317.519" width="43.504" height="1.05" fill="#d01838"/>
<rect x="410.149" y="335.504" width="43.504" height="1.05" fill="#0000ff"/>
<rect x="410.149" y="352.248" width="43.504" height="1.05" fill="#ffff00"/>
</g>
<g fill="#262626">
<text x="57.273" y="397.221" font-size="14.3366">0</text>
<text x="125.615" y="397.221" font-size="14.3366">0.01</text>
<text x="202.922" y="397.221" font-size="14.3366">0.02</text>
<text x="280.228" y="397.221" font-size="14.3366">0.03</text>
<text x="357.535" y="397.221" font-size="14.3366">0.04</text>
<text x="434.842" y="397.221" font-size="14.3366">0.05</text>
<text x="512.148" y="397.221" font-size="14.3366">0.06</text>
<text x="33.352" y="384.371" font-size="14.3366">1</text>
<text x="40.470" y="384.371" font-size="14.3366">0</text>
<text x="48.850" y="377.692" font-size="10.876">0</text>
<text x="33.352" y="333.063" font-size="14.3366">1</text>
<text x="40.470" y="333.063" font-size="14.3366">0</text>
<text x="48.850" y="326.385" font-size="10.876">1</text>
<text x="33.352" y="281.756" font-size="14.3366">1</text>
<text x="40.470" y="281.756" font-size="14.3366">0</text>
<text x="48.850" y="275.078" font-size="10.876">2</text>
<text x="33.352" y="230.449" font-size="14.3366">1</text>
<text x="40.470" y="230.449" font-size="14.3366">0</text>
<text x="48.850" y="223.771" font-size="10.876">3</text>
<text x="33.352" y="179.142" font-size="14.3366">1</text>
<text x="40.470" y="179.142" font-size="14.3366">0</text>
<text x="48.850" y="172.463" font-size="10.876">4</text>
<text x="33.352" y="127.835" font-size="14.3366">1</text>
<text x="40.470" y="127.835" font-size="14.3366">0</text>
<text x="48.850" y="121.156" font-size="10.876">5</text>
<text x="33.352" y="76.528" font-size="14.3366">1</text>
<text x="40.470" y="76.528" font-size="14.3366">0</text>
<text x="48.850" y="69.849" font-size="10.876">6</text>
<text x="33.352" y="25.221" font-size="14.3366">1</text>
<text x="40.470" y="25.221" font-size="14.3366">0</text>
<text x="48.850" y="18.542" font-size="10.876">7</text>
<text x="221.893" y="417.751" font-size="15.8197">SiC Volume Fraction</text>
<text transform="translate(24.5024 197.114) rotate(-90)" font-size="15.4736" text-anchor="middle">Electrical conductivity (S/m)</text>
<text x="455.878" y="322.521" font-size="12.9771">AR=80</text>
<text x="455.878" y="340.206" font-size="12.9771">AR=100</text>
<text x="455.878" y="357.892" font-size="12.9771">AR=120</text>
<g fill="#fff" stroke="none">
<rect x="146.262" y="395.850" width="2.819" height="1.871"/>
<rect x="150.486" y="395.850" width="2.727" height="1.871"/>
<rect x="34.068" y="383.000" width="2.819" height="1.871"/>
<rect x="38.293" y="383.000" width="2.727" height="1.871"/>
<rect x="34.068" y="331.692" width="2.819" height="1.871"/>
<rect x="38.293" y="331.692" width="2.727" height="1.871"/>
<rect x="49.394" y="325.272" width="2.122" height="1.612"/>
<rect x="52.616" y="325.272" width="2.069" height="1.612"/>
<rect x="34.068" y="280.385" width="2.819" height="1.871"/>
<rect x="38.293" y="280.385" width="2.727" height="1.871"/>
<rect x="34.068" y="229.078" width="2.819" height="1.871"/>
<rect x="38.293" y="229.078" width="2.727" height="1.871"/>
<rect x="34.068" y="177.771" width="2.819" height="1.871"/>
<rect x="38.293" y="177.771" width="2.727" height="1.871"/>
<rect x="34.068" y="126.464" width="2.819" height="1.871"/>
<rect x="38.293" y="126.464" width="2.727" height="1.871"/>
<rect x="34.068" y="75.157" width="2.819" height="1.871"/>
<rect x="38.293" y="75.157" width="2.727" height="1.871"/>
<rect x="34.068" y="23.850" width="2.819" height="1.871"/>
<rect x="38.293" y="23.850" width="2.727" height="1.871"/>
<rect x="482.132" y="338.937" width="2.545" height="1.769"/>
<rect x="485.963" y="338.937" width="2.468" height="1.769"/>
<rect x="482.132" y="356.623" width="2.545" height="1.769"/>
<rect x="485.963" y="356.623" width="2.468" height="1.769"/>
</g>
</g>
</g>
</g>
<g fill="#fff200" filter="url(#bs)">
<path d="M761 539H774V543H761zM757 543H778V547H757zM757 547H778V551H757zM757 551H778V555H757zM753 555H782V559H753zM741 559H794V563H741zM737 563H798V567H737zM733 567H802V571H733zM733 571H802V575H733zM737 575H798V579H737zM741 579H794V583H741zM745 583H790V587H745zM745 587H790V591H745zM745 591H790V595H745zM745 595H790V599H745zM741 599H794V603H741zM741 603H794V607H741zM741 607H765V611H741zM770 607H794V611H770zM745 611H757V615H745zM778 611H790V615H778z"/>
<path d="M980 357H988V361H980zM976 361H992V365H976zM972 365H996V369H972zM972 369H996V373H972zM972 373H996V377H972zM947 377H1020V381H947zM943 381H1024V385H943zM943 385H1024V389H943zM947 389H1024V393H947zM951 393H1020V397H951zM955 397H1012V401H955zM955 401H1008V404H955zM955 404H1012V408H955zM955 408H1012V412H955zM955 412H1012V416H955zM955 416H980V420H955zM988 416H1012V420H988zM959 420H972V424H959zM996 420H1008V424H996z"/>
<rect x="980" y="393" width="4" height="4" fill="#ffff50"/>
<path d="M1433 238H1445V242H1433zM1429 242H1449V246H1429zM1429 246H1449V250H1429zM1429 250H1449V254H1429zM1425 254H1453V258H1425zM1413 258H1465V262H1413zM1409 262H1469V266H1409zM1409 266H1469V270H1409zM1409 270H1469V274H1409zM1413 274H1465V277H1413zM1417 277H1461V281H1417zM1417 281H1457V285H1417zM1417 285H1461V289H1417zM1417 289H1461V293H1417zM1417 293H1461V297H1417zM1417 297H1437V301H1417zM1441 297H1461V301H1441zM1421 301H1433V305H1421zM1445 301H1457V305H1445z"/>
<path d="M741 1027H749V1031H741zM737 1031H753V1035H737zM733 1035H758V1039H733zM733 1039H758V1043H733zM733 1043H758V1047H733zM709 1047H782V1051H709zM705 1051H786V1055H705zM705 1055H786V1059H705zM709 1059H786V1063H709zM713 1063H782V1067H713zM717 1067H774V1071H717zM721 1071H770V1075H721zM717 1075H774V1079H717zM717 1079H774V1083H717zM717 1083H774V1087H717zM717 1087H741V1091H717zM749 1087H774V1091H749zM721 1091H733V1095H721zM758 1091H770V1095H758z"/>
<rect x="741" y="1063" width="4" height="4" fill="#ffff50"/>
<path d="M729 1380H741V1384H729zM725 1384H745V1388H725zM725 1388H745V1392H725zM725 1392H745V1396H725zM709 1396H761V1400H709zM705 1400H765V1404H705zM705 1404H765V1408H705zM705 1408H765V1412H705zM709 1412H761V1416H709zM713 1416H757V1420H713zM713 1420H757V1424H713zM713 1424H757V1428H713zM713 1428H757V1432H713zM713 1432H733V1436H713zM737 1432H757V1436H737zM717 1436H729V1440H717zM741 1436H753V1440H741z"/>
<path d="M1744 1396H1753V1400H1744zM1740 1400H1757V1404H1740zM1736 1404H1761V1408H1736zM1736 1408H1761V1412H1736zM1720 1412H1777V1416H1720zM1716 1416H1781V1420H1716zM1716 1420H1781V1424H1716zM1720 1424H1777V1428H1720zM1724 1428H1773V1432H1724zM1728 1432H1769V1436H1728zM1724 1436H1773V1440H1724zM1724 1440H1773V1444H1724zM1724 1444H1773V1448H1724zM1728 1448H1740V1452H1728zM1757 1448H1769V1452H1757z"/>
</g>
</svg></body></html>
